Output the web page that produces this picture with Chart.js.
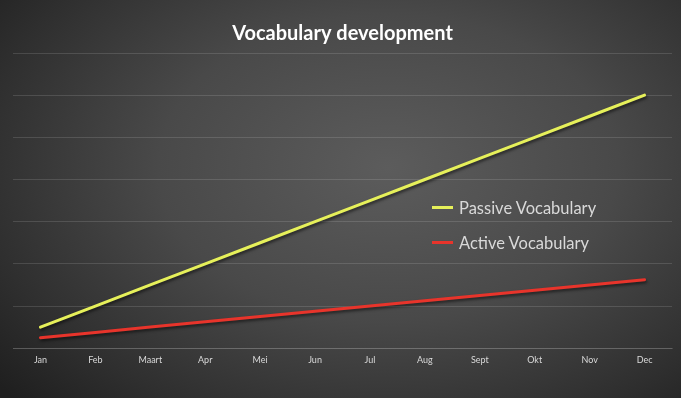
<!DOCTYPE html>
<html>
<head>
<meta charset="utf-8">
<script src="https://cdn.jsdelivr.net/npm/chart.js@4.4.1/dist/chart.umd.min.js"></script>
<style>
  html, body { margin: 0; padding: 0; }
  .chart-wrap {
    position: relative;
    width: 681px;
    height: 398px;
    background: radial-gradient(ellipse 75% 85% at 57% 42%, #5c5c5c 0%, #494949 45%, #2f2f2f 80%, #1f1f1f 100%);
    overflow: hidden;
  }
  .legend {
    position: absolute;
    left: 432px;
    top: 197px;
    font-family: "Lato", sans-serif;
    font-size: 16.5px;
    color: #d9d9d9;
  }
  .legend-item { display: flex; align-items: center; height: 21px; margin-bottom: 14px; }
  .legend-line { width: 21px; height: 3px; margin-right: 6px; }
</style>
</head>
<body>
<div class="chart-wrap">
  <canvas id="vocabChart" width="681" height="398"></canvas>
  <div class="legend" id="legend"></div>
</div>
<script>
// Data
const months = ["Jan", "Feb", "Maart", "Apr", "Mei", "Jun", "Jul", "Aug", "Sept", "Okt", "Nov", "Dec"];
const passiveVocab = [500, 1000, 1500, 2000, 2500, 3000, 3500, 4000, 4500, 5000, 5500, 6000];
const activeVocab = [250, 375, 500, 625, 750, 875, 1000, 1125, 1250, 1375, 1500, 1625];

const seriesNames = ["Passive Vocabulary", "Active Vocabulary"];
const seriesColors = ["#e6f05a", "#e8342b"];
const gridColor = "rgba(255,255,255,0.13)";

/* ── line shadow ── */
const lineShadow = {
  id: "lineShadow",
  beforeDatasetsDraw(chart) {
    const ctx = chart.ctx;
    ctx.save();
    ctx.shadowColor = "rgba(0,0,0,0.55)";
    ctx.shadowBlur = 3;
    ctx.shadowOffsetX = 1;
    ctx.shadowOffsetY = 2;
  },
  afterDatasetsDraw(chart) {
    chart.ctx.restore();
  },
};

new Chart(document.getElementById("vocabChart"), {
  type: "line",
  data: {
    labels: months,
    datasets: [
      {
        label: seriesNames[0],
        data: passiveVocab,
        borderColor: seriesColors[0],
        backgroundColor: seriesColors[0],
        borderWidth: 3,
        pointRadius: 0,
        tension: 0,
        borderCapStyle: "round",
      },
      {
        label: seriesNames[1],
        data: activeVocab,
        borderColor: seriesColors[1],
        backgroundColor: seriesColors[1],
        borderWidth: 3,
        pointRadius: 0,
        tension: 0,
        borderCapStyle: "round",
      },
    ],
  },
  options: {
    responsive: false,
    animation: false,
    layout: { padding: { left: 13, right: 9, top: 0, bottom: 27 } },
    plugins: {
      legend: { display: false },
      tooltip: { enabled: false },
      title: {
        display: true,
        text: "Vocabulary development",
        color: "#ffffff",
        font: { family: "Lato", size: 20, weight: "bold" },
        padding: { top: 22, bottom: 7 },
      },
    },
    scales: {
      x: {
        offset: true,
        grid: { display: false, drawTicks: false },
        border: { display: true, color: gridColor },
        ticks: { color: "#d9d9d9", font: { family: "Lato", size: 9 }, padding: 6, maxRotation: 0 },
      },
      y: {
        min: 0,
        max: 7000,
        ticks: { display: false, stepSize: 1000 },
        grid: { color: gridColor, drawTicks: false },
        border: { display: false },
      },
    },
  },
  plugins: [lineShadow],
});

// Custom legend
const legend = document.getElementById("legend");
seriesNames.forEach((name, i) => {
  const item = document.createElement("div");
  item.className = "legend-item";
  item.innerHTML = `<div class="legend-line" style="background:${seriesColors[i]}"></div><span>${name}</span>`;
  legend.appendChild(item);
});
</script>
</body>
</html>
